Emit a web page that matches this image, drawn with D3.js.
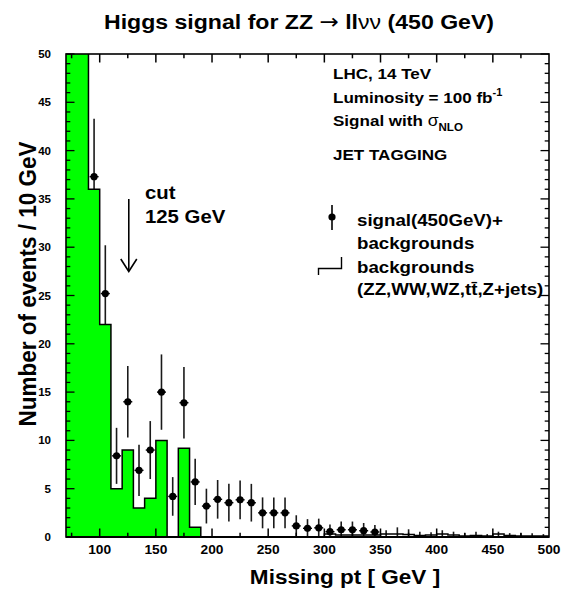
<!DOCTYPE html>
<html><head><meta charset="utf-8">
<script src="https://cdn.jsdelivr.net/npm/d3@7"></script>
<style>
html,body{margin:0;padding:0;background:#fff;}
svg text{font-family:"Liberation Sans",Arial,Helvetica,sans-serif;fill:#000;}
</style></head>
<body>
<svg id="c" width="561" height="593"></svg>
<script>
// ---- data ----
const binLow = [70,80,90,100,110,120,130,140,150,160,170,180,190,200,210,220,230,240,250,260,270,280,290,300,310,320,330,340,350,360,370,380,390,400,410,420,430,440,450,460,470,480,490];
const binWidth = 10;
// backgrounds (ZZ,WW,WZ,tt,Z+jets) – outline histogram
const backgrounds = [80,60,36,22,5,9,3,4,10,0,9.2,1, 0,0,0,0,0,0,0,0,0,0,0, 0.3,0.2,0.2,0.2,0.2,0.3,0.3,0.25,0.15,0.2,0.3,0.2,0.1,0.15,0.1,0.3,0.15,0.1,0.1,0.1];
// green filled histogram (first bins)
const greenFill = [80,60,36,22,5,9,3,4,10,0,9.2,1];
// signal(450GeV)+backgrounds points
const signal = [null,null,37.3,25.2,8.4,14.0,6.9,9.0,15.0,4.2,13.9,5.7,3.2,3.9,3.55,3.85,3.55,2.5,2.5,2.5,1.15,0.9,0.95,0.55,0.75,0.75,0.65,0.52, 0,0,0,0,0,0,0,0,0,0,0,0,0,0,0];
const signalErr = [null,null,6.0,5.0,2.9,3.7,2.65,3.0,3.9,2.0,3.7,2.4,1.8,2.0,1.95,2.0,1.95,1.6,1.6,1.6,1.1,0.95,0.95,0.75,0.85,0.85,0.8,0.72, 0.7,1.0,0.8,0.55,0.5,0.7,0.55,0.4,0.55,0.3,0.55,0.4,0.4,0.4,0.3];
const xTickLabels = [100,150,200,250,300,350,400,450,500];
const yTickLabels = [0,5,10,15,20,25,30,35,40,45,50];
const cutValue = 125;

// ---- layout ----
const svg = d3.select("#c");
const P = {l:66, r:549, t:54, b:537};
const x = d3.scaleLinear().domain([70,500]).range([P.l,P.r]);
const y = d3.scaleLinear().domain([0,50]).range([P.b,P.t]);
const SX = 1.1;

svg.append("defs").append("clipPath").attr("id","clip")
  .append("rect").attr("x",P.l).attr("y",P.t).attr("width",P.r-P.l).attr("height",P.b-P.t);
const plot = svg.append("g").attr("clip-path","url(#clip)");

// points (drawn first; fill covers the lower parts of bars)
const pts = plot.append("g");
signal.forEach((v,i)=>{
  const e = signalErr[i];
  if (e==null) return;
  const cx = x(binLow[i]+binWidth/2);
  const v0 = v||0;
  pts.append("line").attr("x1",cx).attr("x2",cx)
    .attr("y1",y(Math.max(0,v0-e))).attr("y2",y(v0+e))
    .attr("stroke","#1a1a1a").attr("stroke-width",1.6);
  if (v){
    pts.append("line").attr("x1",cx-4.5).attr("x2",cx+4.5).attr("y1",y(v)).attr("y2",y(v))
      .attr("stroke","#000").attr("stroke-width",1.4);
    pts.append("circle").attr("cx",cx).attr("cy",y(v)).attr("r",3.6).attr("fill","#000");
  }
});

// green fill
const fillPts = [];
greenFill.forEach((v,i)=>{ fillPts.push([binLow[i],v]); fillPts.push([binLow[i]+binWidth,v]); });
plot.append("path").datum(fillPts)
  .attr("d", d3.area().x(d=>x(d[0])).y0(y(0)).y1(d=>y(d[1])))
  .attr("fill","#00ff00");

// background outline
const linePts = [];
backgrounds.forEach((v,i)=>{ linePts.push([binLow[i],v]); linePts.push([binLow[i]+binWidth,v]); });
plot.append("path").datum(linePts)
  .attr("d", d3.line().x(d=>x(d[0])).y(d=>y(d[1])))
  .attr("fill","none").attr("stroke","#000").attr("stroke-width",1.5);

// ---- frame & ticks ----
const ax = svg.append("g").attr("stroke","#000");
d3.range(0,51,1).forEach(v=>{
  const L = v%5===0 ? 8.5 : 4.3;
  ax.append("line").attr("x1",P.l).attr("x2",P.l+L).attr("y1",y(v)).attr("y2",y(v)).attr("stroke-width",1.3);
  ax.append("line").attr("x1",P.r).attr("x2",P.r-L).attr("y1",y(v)).attr("y2",y(v)).attr("stroke-width",1.3);
});
d3.range(75,500,25).forEach(v=>{
  const L = v%50===0 ? 8.5 : 4.3;
  ax.append("line").attr("x1",x(v)).attr("x2",x(v)).attr("y1",P.b).attr("y2",P.b-L).attr("stroke-width",1.5);
  ax.append("line").attr("x1",x(v)).attr("x2",x(v)).attr("y1",P.t).attr("y2",P.t+L).attr("stroke-width",1.5);
});
ax.append("rect").attr("x",P.l).attr("y",P.t).attr("width",P.r-P.l).attr("height",P.b-P.t)
  .attr("fill","none").attr("stroke-width",1.6);
ax.append("line").attr("x1",P.l).attr("x2",P.r).attr("y1",P.b).attr("y2",P.b).attr("stroke-width",2.2);

// ---- text helper ----
function T(px,py,size,anchor,weight){
  return svg.append("text").attr("transform",`translate(${px},${py}) scale(${SX},1)`)
    .attr("text-anchor",anchor||"start").attr("font-size",size).attr("font-weight",weight||"bold");
}

// tick labels
xTickLabels.forEach(v=>{ T(x(v),554,12.5,"middle").text(v); });
yTickLabels.forEach(v=>{ T(51,y(v)+4,10.5,"end").text(v); });

// axis titles
T(345,584,20.5,"middle").text("Missing pt [ GeV ]");
svg.append("text").attr("transform",`translate(36,284) scale(${SX},1) rotate(-90)`)
  .attr("text-anchor","middle").attr("font-size",22.5).attr("font-weight","bold")
  .text("Number of events / 10 GeV");

// title
const tt = T(299,29,21,"middle");
tt.append("tspan").text("Higgs signal for ZZ ");
tt.append("tspan").attr("font-weight","normal").attr("font-family","DejaVu Sans").attr("font-size",21).text("\u2192");
tt.append("tspan").text(" ll");
tt.append("tspan").attr("font-weight","normal").text("\u03bd\u03bd");
tt.append("tspan").text(" (450 GeV)");

// info text
T(333,79,15.5).text("LHC, 14 TeV");
const lum = T(333,103,15.5);
lum.append("tspan").text("Luminosity = 100 fb");
lum.append("tspan").attr("font-size",10).attr("dy",-7).text("-1");
const sg = T(333,126,15.5);
sg.append("tspan").text("Signal with ");
sg.append("tspan").attr("font-weight","normal").attr("font-size",16).text("\u03c3");
sg.append("tspan").attr("font-size",10.5).attr("dy",5).text("NLO");
T(333,160,15.5).text("JET TAGGING");

// legend
svg.append("line").attr("x1",332).attr("x2",332).attr("y1",205).attr("y2",230).attr("stroke","#000").attr("stroke-width",1.6);
svg.append("circle").attr("cx",332).attr("cy",217).attr("r",3.6).attr("fill","#000");
svg.append("path").attr("d","M318.5,275 V268.5 H341.5 V257").attr("fill","none").attr("stroke","#000").attr("stroke-width",1.4);
T(357,226,17).text("signal(450GeV)+");
T(357,249,17).text("backgrounds");
T(357,273,17).text("backgrounds");
T(357,295,17).text("(ZZ,WW,WZ,tt\u0304,Z+jets)");

// cut arrow
const cx0 = x(cutValue)+1;
svg.append("line").attr("x1",cx0).attr("x2",cx0).attr("y1",199).attr("y2",271).attr("stroke","#000").attr("stroke-width",1.6);
svg.append("path").attr("d",`M${cx0-8},259 L${cx0},271.5 L${cx0+8},259`).attr("fill","none").attr("stroke","#000").attr("stroke-width",1.6);
T(145,199,18.5).text("cut");
T(145,223,18.5).text("125 GeV");
</script>
</body></html>
